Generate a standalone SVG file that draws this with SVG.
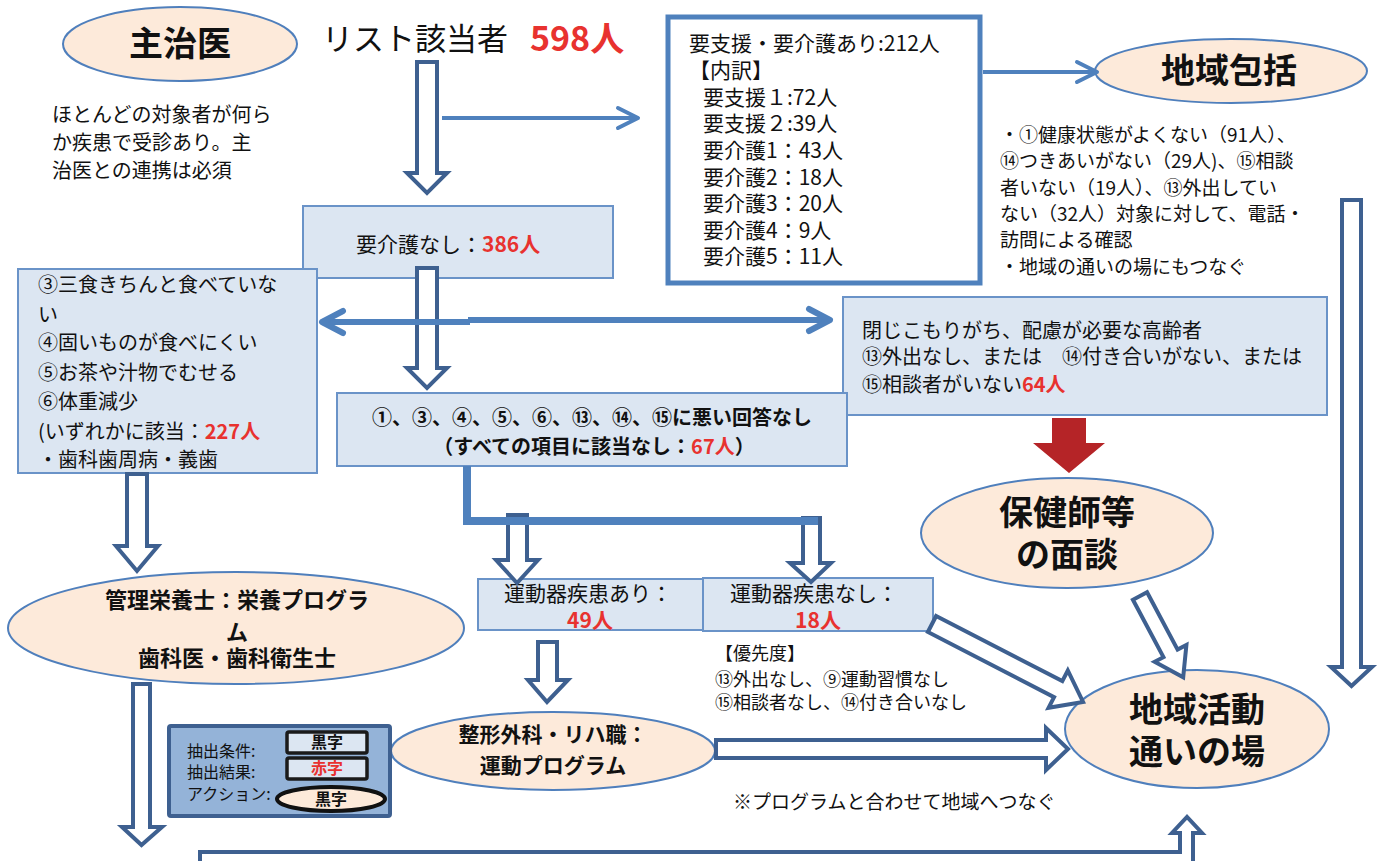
<svg xmlns="http://www.w3.org/2000/svg" width="1378" height="861" viewBox="0 0 1378 861">
<style>
text{font-family:"Noto Sans CJK JP","Noto Sans",sans-serif;fill:#111}
.b{font-weight:bold}
.r{fill:#E8322F;font-weight:bold}
.ell{fill:#FDEADA;stroke:#4F7FBC;stroke-width:2}
.box{fill:#DCE6F2;stroke:#6A93C8;stroke-width:2}
.hol{fill:#fff;stroke:#3E6090;stroke-width:4;stroke-linejoin:miter}
.thin{fill:none;stroke:#4F81BD;stroke-width:4}
.t20{font-size:20px}
.t19{font-size:19px}
.big{font-size:34px;font-weight:bold}
</style>
<defs>
<marker id="chev" markerUnits="userSpaceOnUse" markerWidth="30" markerHeight="30" refX="22" refY="12" orient="auto-start-reverse" overflow="visible">
<path d="M2,2 L22,12 L2,22" fill="none" stroke="#4F81BD" stroke-width="4" stroke-linecap="round" stroke-linejoin="round"/>
</marker>
<marker id="chev2" markerUnits="userSpaceOnUse" markerWidth="30" markerHeight="30" refX="24" refY="12" orient="auto-start-reverse" overflow="visible">
<path d="M3,1 L24,12 L3,23" fill="none" stroke="#4F81BD" stroke-width="6" stroke-linecap="round" stroke-linejoin="round"/>
</marker>
</defs>
<rect width="1378" height="861" fill="#fff"/>

<g id="shujii">
<ellipse class="ell" cx="180" cy="44" rx="117" ry="37"/>
<text class="big" x="180" y="56" text-anchor="middle">主治医</text>
</g>
<g id="shujii-note" class="t20">
<text x="52" y="122">ほとんどの対象者が何ら</text>
<text x="52" y="150">か疾患で受診あり。主</text>
<text x="52" y="178">治医との連携は必須</text>
</g>
<g id="list">
<text x="322" y="50" font-size="31">リスト該当者</text>
<text class="r" x="530" y="51" font-size="34">598人</text>
</g>
<g id="yoshien">
<rect x="668" y="17" width="312" height="266" fill="#fff" stroke="#4F81BD" stroke-width="5"/>
<g font-size="21">
<text x="689" y="51">要支援・要介護あり:212人</text>
<text x="689" y="78">【内訳】</text>
<text x="703" y="105">要支援１:72人</text>
<text x="703" y="131">要支援２:39人</text>
<text x="703" y="158">要介護1：43人</text>
<text x="703" y="185">要介護2：18人</text>
<text x="703" y="211">要介護3：20人</text>
<text x="703" y="238">要介護4：9人</text>
<text x="703" y="264">要介護5：11人</text>
</g>
</g>
<g id="chiikihokatsu">
<ellipse class="ell" cx="1231" cy="71" rx="136" ry="32"/>
<text class="big" x="1229" y="83" text-anchor="middle">地域包括</text>
</g>
<g id="hokatsu-note" class="t19">
<text x="1000" y="142">・①健康状態がよくない（91人）、</text>
<text x="1000" y="168">⑭つきあいがない（29人)、⑮相談</text>
<text x="1000" y="195">者いない（19人）、⑬外出してい</text>
<text x="1000" y="221">ない（32人）対象に対して、電話・</text>
<text x="1000" y="247">訪問による確認</text>
<text x="1000" y="274">・地域の通いの場にもつなぐ</text>
</g>
<g id="yokaigo-nashi">
<rect class="box" x="303" y="206" width="310" height="72"/>
<text x="356" y="252" font-size="21">要介護なし：<tspan class="r">386人</tspan></text>
</g>
<g id="shoku">
<rect class="box" x="18" y="269" width="299" height="204"/>
<g class="t20">
<text x="38" y="292">③三食きちんと食べていな</text>
<text x="38" y="322">い</text>
<text x="38" y="350">④固いものが食べにくい</text>
<text x="38" y="380">⑤お茶や汁物でむせる</text>
<text x="38" y="409">⑥体重減少</text>
<text x="38" y="439">(いずれかに該当：<tspan class="r">227人</tspan></text>
<text x="38" y="467">・歯科歯周病・義歯</text>
</g>
</g>
<g id="tojikomori">
<rect class="box" x="843" y="297" width="484" height="118"/>
<g class="t20">
<text x="862" y="338">閉じこもりがち、配慮が必要な高齢者</text>
<text x="862" y="364">⑬外出なし、または　⑭付き合いがない、または</text>
<text x="862" y="392">⑮相談者がいない<tspan class="r">64人</tspan></text>
</g>
</g>
<g id="gaitou-nashi">
<rect class="box" x="337" y="393" width="510" height="73"/>
<text class="b t20" x="592" y="425" text-anchor="middle">①、③、④、⑤、⑥、⑬、⑭、⑮に悪い回答なし</text>
<text class="b t20" x="594" y="454" text-anchor="middle">（すべての項目に該当なし：<tspan class="r">67人</tspan>）</text>
</g>
<g id="hokenshi">
<ellipse class="ell" cx="1067" cy="533" rx="146" ry="55"/>
<text class="big" x="1067" y="525" text-anchor="middle">保健師等</text>
<text class="big" x="1067" y="567" text-anchor="middle">の面談</text>
</g>
<g id="eiyou">
<ellipse class="ell" cx="236" cy="628" rx="228" ry="56"/>
<g class="b" font-size="22" text-anchor="middle">
<text x="237" y="608">管理栄養士：栄養プログラ</text>
<text x="237" y="640">ム</text>
<text x="237" y="666">歯科医・歯科衛生士</text>
</g>
</g>
<g id="undoki-ari">
<rect class="box" x="478" y="579" width="225" height="51"/>
<text x="588" y="601" font-size="21" text-anchor="middle">運動器疾患あり：</text>
<text class="r" x="590" y="628" font-size="21" text-anchor="middle">49人</text>
</g>
<g id="undoki-nashi">
<rect class="box" x="703" y="578" width="230" height="53"/>
<text x="814" y="601" font-size="21" text-anchor="middle">運動器疾患なし：</text>
<text class="r" x="818" y="628" font-size="21" text-anchor="middle">18人</text>
</g>
<g id="yusendo" font-size="18">
<text x="715" y="660">【優先度】</text>
<text x="715" y="686">⑬外出なし、⑨運動習慣なし</text>
<text x="715" y="709">⑮相談者なし、⑭付き合いなし</text>
</g>
<g id="seikei">
<ellipse class="ell" cx="553" cy="751" rx="162" ry="39"/>
<text class="b" x="553" y="742" font-size="21" text-anchor="middle">整形外科・リハ職：</text>
<text class="b" x="553" y="773" font-size="21" text-anchor="middle">運動プログラム</text>
</g>
<g id="chiiki-katsudou">
<ellipse class="ell" cx="1197" cy="729" rx="132" ry="59"/>
<text class="big" x="1197" y="722" text-anchor="middle">地域活動</text>
<text class="big" x="1197" y="764" text-anchor="middle">通いの場</text>
</g>
<g id="note-bottom">
<text class="t19" x="733" y="809">※プログラムと合わせて地域へつなぐ</text>
</g>
<g id="legend">
<rect x="169" y="726" width="221" height="90" rx="2" fill="#94B3D8" stroke="#3E6090" stroke-width="4"/>
<g font-size="16">
<text x="187" y="757">抽出条件:</text>
<text x="187" y="778">抽出結果:</text>
<text x="187" y="800">アクション:</text>
</g>
<rect x="287" y="732" width="80" height="21" rx="2" fill="#DCE6F2" stroke="#1a1a1a" stroke-width="3.5"/>
<text class="b" x="327" y="748" font-size="16" text-anchor="middle">黒字</text>
<rect x="287" y="758" width="80" height="21" rx="2" fill="#DCE6F2" stroke="#1a1a1a" stroke-width="3.5"/>
<text class="r" x="327" y="774" font-size="16" text-anchor="middle">赤字</text>
<ellipse cx="331" cy="799" rx="54" ry="12" fill="#FDEADA" stroke="#111" stroke-width="4"/>
<text class="b" x="331" y="805" font-size="16" text-anchor="middle">黒字</text>
</g>

<g id="connectors">
<path class="hol" d="M417,62 L437,62 L437,173 L447,173 L427,193 L407,173 L417,173 Z"/>
<path class="hol" d="M417,268 L437,268 L437,368 L447,368 L427,388 L407,368 L417,368 Z"/>
<path class="hol" d="M127,474 L147,474 L147,546 L158,546 L137,571 L116,546 L127,546 Z"/>
<path class="hol" d="M133,684 L150,684 L150,827 L162,827 L141.5,845 L122,827 L133,827 Z"/>
<path class="hol" d="M508,515 L527,515 L527,560 L538,560 L517,583 L496,560 L508,560 Z"/>
<path class="hol" d="M803,518 L820,518 L820,563 L831,563 L811,582 L790,563 L803,563 Z"/>
<path class="hol" d="M538,642 L557,642 L557,680 L568,680 L547,702 L528,680 L538,680 Z"/>
<path class="hol" d="M1342,200 L1361,200 L1361,667 L1372,667 L1351.5,686 L1331,667 L1342,667 Z"/>
<path class="hol" d="M716,740 L1046,740 L1046,728 L1068,749 L1046,770 L1046,758 L716,758 Z"/>
<path class="hol" d="M200,852 L1180,852 L1180,833 L1172,833 L1187,817 L1202,833 L1193,833 L1193,866 L200,866 Z"/>
<path class="hol" transform="translate(932,624) rotate(27.3)" d="M0,-9 L142,-9 L142,-21 L170,0 L142,21 L142,9 L0,9 Z"/>
<path class="hol" transform="translate(1140,596) rotate(62)" d="M0,-8 L65,-8 L65,-18 L92,0 L65,18 L65,8 L0,8 Z"/>
<path d="M1052,418 L1086,418 L1086,443 L1105,443 L1069,473 L1033,443 L1052,443 Z" fill="#B52427"/>
<path d="M467,466 L467,521 L818,521" fill="none" stroke="#4F81BD" stroke-width="8"/>
<line class="thin" x1="442" y1="118" x2="638" y2="118" marker-end="url(#chev)"/>
<line class="thin" x1="983" y1="72" x2="1097" y2="72" marker-end="url(#chev)"/>
<line x1="322" y1="322" x2="470" y2="322" stroke="#4F81BD" stroke-width="6" marker-start="url(#chev2)"/>
<line x1="468" y1="320" x2="830" y2="320" stroke="#4F81BD" stroke-width="6" marker-end="url(#chev2)"/>
</g>
</svg>
